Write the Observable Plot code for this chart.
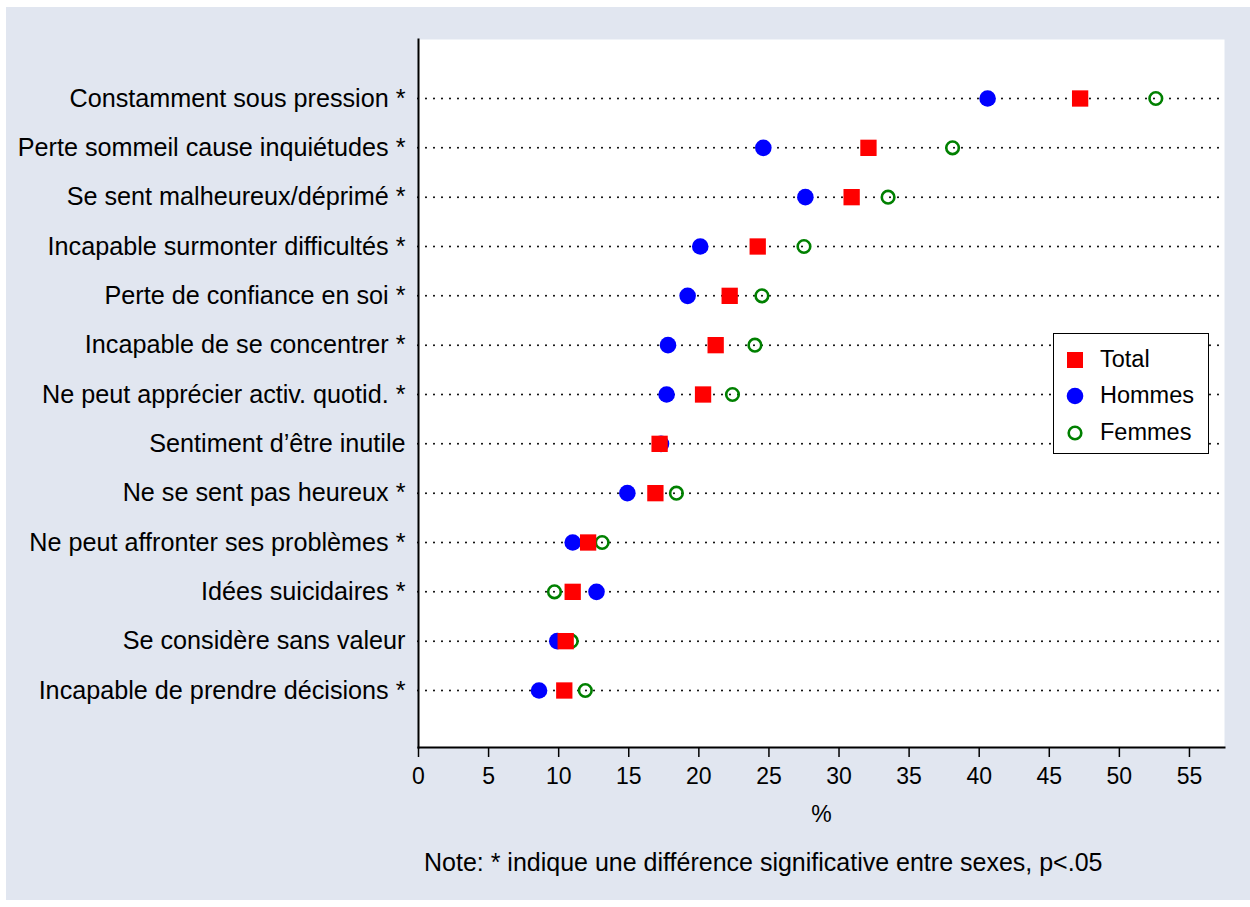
<!DOCTYPE html>
<html>
<head>
<meta charset="utf-8">
<script src="https://cdn.jsdelivr.net/npm/d3@7"></script>
<script src="https://cdn.jsdelivr.net/npm/@observablehq/plot@0.6"></script>
<style>
  body { margin: 0; background: #fff; }
  #wrap { position: relative; width: 1250px; height: 907px; background: #fff; font-family: "Liberation Sans", Arial, sans-serif; overflow: hidden; }
  #bg { position: absolute; left: 6px; top: 7px; width: 1244px; height: 893px; background: #e1e6f0; }
  #chart { position: absolute; left: 0; top: 0; }
  #note { position: absolute; left: 424px; top: 848px; font-size: 25px; line-height: 28px; color: #000; white-space: nowrap; }
  #legend { position: absolute; left: 1053px; top: 333px; width: 156px; height: 121px; background: #fff; border: 1.5px solid #000; box-sizing: border-box; }
  .li { position: absolute; left: 0; height: 30px; width: 150px; }
  .li svg { position: absolute; left: 9px; top: 4px; }
  .li span { position: absolute; left: 46px; top: 1px; font-size: 23.5px; line-height: 28px; color: #000; }
</style>
</head>
<body>
<div id="wrap">
  <div id="bg"></div>
  <div id="chart"></div>
  <div id="note"></div>
  <div id="legend"></div>
</div>
<script>
const categories = [
  "Constamment sous pression *",
  "Perte sommeil cause inquiétudes *",
  "Se sent malheureux/déprimé *",
  "Incapable surmonter difficultés *",
  "Perte de confiance en soi *",
  "Incapable de se concentrer *",
  "Ne peut apprécier activ. quotid. *",
  "Sentiment d’être inutile",
  "Ne se sent pas heureux *",
  "Ne peut affronter ses problèmes *",
  "Idées suicidaires *",
  "Se considère sans valeur",
  "Incapable de prendre décisions *"
];
const total  = [47.2, 32.1, 30.9, 24.2, 22.2, 21.2, 20.3, 17.2, 16.9, 12.1, 11.0, 10.5, 10.4];
const hommes = [40.6, 24.6, 27.6, 20.1, 19.2, 17.8, 17.7, 17.3, 14.9, 11.0, 12.7,  9.9,  8.6];
const femmes = [52.6, 38.1, 33.5, 27.5, 24.5, 24.0, 22.4, 17.2, 18.4, 13.1,  9.7, 10.9, 11.9];
const xTicks = [0, 5, 10, 15, 20, 25, 30, 35, 40, 45, 50, 55];
const seriesNames = ["Total", "Hommes", "Femmes"];
const xLabel = "%";
const noteText = "Note: * indique une différence significative entre sexes, p<.05";

const rows = categories.map((c, i) => ({cat: c, total: total[i], hommes: hommes[i], femmes: femmes[i]}));

const chart = Plot.plot({
  width: 1250,
  height: 907,
  marginLeft: 418,
  marginRight: 26,
  marginTop: 39,
  marginBottom: 160,
  style: {fontFamily: '"Liberation Sans", Arial, sans-serif', background: "transparent", color: "#000"},
  x: {domain: [0, 57.5]},
  y: {type: "point", domain: categories, padding: 0, round: false, insetTop: 59, insetBottom: 57},
  marks: [
    Plot.frame({fill: "white", stroke: null}),
    Plot.ruleY(rows, {y: "cat", stroke: "black", strokeWidth: 2, strokeDasharray: "0,8", strokeLinecap: "round"}),
    Plot.dot(rows, {x: "hommes", y: "cat", r: 8.3, fill: "#0000ff"}),
    Plot.dot(rows, {x: "femmes", y: "cat", r: 6.3, stroke: "#008000", strokeWidth: 2.6, fill: "none"}),
    Plot.dot(rows, {x: "total", y: "cat", r: 9.2, symbol: "square", fill: "#ff0000"}),
    Plot.frame({anchor: "left", stroke: "black", strokeWidth: 2}),
    Plot.frame({anchor: "bottom", stroke: "black", strokeWidth: 2}),
    Plot.axisY({tickSize: 0, tickPadding: 13, fontSize: 25.2, label: null}),
    Plot.axisX({ticks: xTicks, tickSize: 10, tickPadding: 10, fontSize: 23, strokeWidth: 1.5,
      label: xLabel, labelAnchor: "center", labelArrow: "none", labelOffset: 74})
  ]
});
document.getElementById("chart").appendChild(chart);
document.getElementById("note").textContent = noteText;

// legend
const legend = document.getElementById("legend");
const legendSymbols = [
  '<svg width="24" height="24"><rect x="4" y="4" width="16" height="16" fill="#ff0000"/></svg>',
  '<svg width="24" height="24"><circle cx="12" cy="12" r="8.3" fill="#0000ff"/></svg>',
  '<svg width="24" height="24"><circle cx="12" cy="12" r="6.3" fill="none" stroke="#008000" stroke-width="2.6"/></svg>'
];
const legendTops = [10, 46, 83];
seriesNames.forEach((name, i) => {
  const d = document.createElement("div");
  d.className = "li";
  d.style.top = legendTops[i] + "px";
  d.innerHTML = legendSymbols[i] + "<span>" + name + "</span>";
  legend.appendChild(d);
});
</script>
</body>
</html>
